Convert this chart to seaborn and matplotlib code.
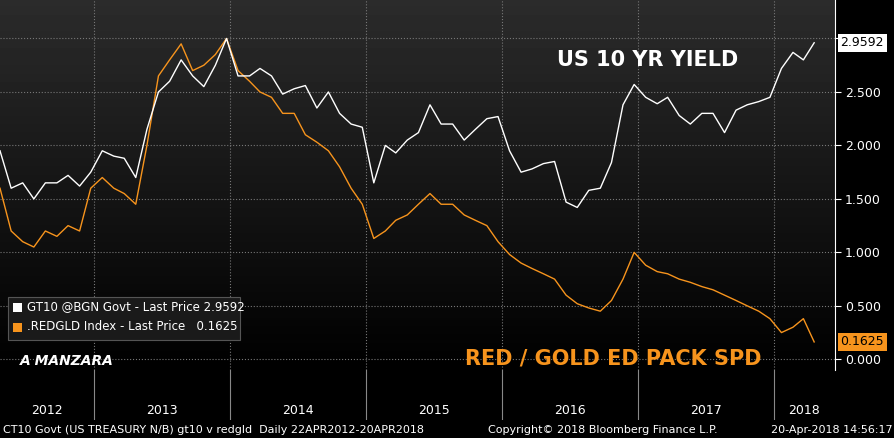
import matplotlib.pyplot as plt
import matplotlib.dates as mdates
import seaborn as sns
import numpy as np
import pandas as pd

# monthly readings, Apr 2012 .. Apr 2018
us10 = [1.95, 1.60, 1.65, 1.50, 1.65, 1.65, 1.72, 1.62, 1.75,
        1.95, 1.90, 1.88, 1.70, 2.15, 2.50, 2.60, 2.80, 2.65, 2.55, 2.75, 3.00,
        2.65, 2.65, 2.72, 2.65, 2.48, 2.53, 2.56, 2.35, 2.50, 2.30, 2.20, 2.17,
        1.65, 2.00, 1.93, 2.05, 2.12, 2.38, 2.20, 2.20, 2.05, 2.15, 2.25, 2.27,
        1.95, 1.75, 1.78, 1.83, 1.85, 1.47, 1.42, 1.58, 1.60, 1.84, 2.38, 2.57,
        2.45, 2.39, 2.45, 2.28, 2.20, 2.30, 2.30, 2.12, 2.33, 2.38, 2.41, 2.45,
        2.72, 2.87, 2.80, 2.96]
redgld = [1.60, 1.20, 1.10, 1.05, 1.20, 1.15, 1.25, 1.20, 1.60,
          1.70, 1.60, 1.55, 1.45, 2.00, 2.65, 2.80, 2.95, 2.70, 2.75, 2.85, 3.00,
          2.70, 2.60, 2.50, 2.45, 2.30, 2.30, 2.10, 2.03, 1.95, 1.80, 1.60, 1.45,
          1.13, 1.20, 1.30, 1.35, 1.45, 1.55, 1.45, 1.45, 1.35, 1.30, 1.25, 1.10,
          0.98, 0.90, 0.85, 0.80, 0.75, 0.60, 0.52, 0.48, 0.45, 0.55, 0.75, 1.00,
          0.88, 0.82, 0.80, 0.75, 0.72, 0.68, 0.65, 0.60, 0.55, 0.50, 0.45, 0.38,
          0.25, 0.30, 0.38, 0.1625]
dates = [pd.Timestamp('2012-04-22') + pd.DateOffset(months=i) for i in range(72)]
dates.append(pd.Timestamp('2018-04-20'))
dates[71] = pd.Timestamp('2018-03-22')
df = pd.DataFrame({'date': dates, 'us10': us10, 'redgld': redgld})

x0, x1 = pd.Timestamp('2012-04-22'), pd.Timestamp('2018-06-15')
fig = plt.figure(figsize=(8.95, 4.38), dpi=100)
fig.patch.set_facecolor('black')
ax = fig.add_axes([0, 68 / 438, 835 / 895, 370 / 438])
grad = np.linspace(0.17, 0.0, 100).reshape(-1, 1)
ax.imshow(grad, cmap='gray', vmin=0, vmax=1, aspect='auto', interpolation='bilinear',
          extent=[mdates.date2num(x0), mdates.date2num(x1), -0.1, 3.36], zorder=0)
sns.lineplot(data=df, x='date', y='redgld', color='#f7941d', lw=1, ax=ax, zorder=3)
sns.lineplot(data=df, x='date', y='us10', color='white', lw=1, ax=ax, zorder=4)
ax.set_xlim(x0, x1)
ax.set_ylim(-0.1, 3.36)
ax.yaxis.tick_right()
ax.set_yticks([0, 0.5, 1, 1.5, 2, 2.5, 3])
ax.set_yticklabels(['0.000', '0.500', '1.000', '1.500', '2.000', '2.500', ''], color='white', fontsize=9)
ax.tick_params(axis='y', length=4, color='white', pad=3)
ax.set_xticks([pd.Timestamp(f'{y}-01-01') for y in range(2013, 2019)])
ax.tick_params(axis='x', labelbottom=False, length=0)
ax.grid(True, color='#777777', ls=':', lw=0.8)
ax.set_xlabel('')
ax.set_ylabel('')
for s in ['top', 'left', 'bottom']:
    ax.spines[s].set_visible(False)
ax.spines['right'].set_color('white')

ax.annotate('2.9592', xy=(1, 2.9592), xycoords=('axes fraction', 'data'), xytext=(4, 0),
            textcoords='offset points', va='center', fontsize=9, color='black',
            bbox=dict(boxstyle='square,pad=0.2', fc='white', ec='none'), annotation_clip=False)
ax.annotate('0.1625', xy=(1, 0.1625), xycoords=('axes fraction', 'data'), xytext=(4, 0),
            textcoords='offset points', va='center', fontsize=9, color='black',
            bbox=dict(boxstyle='square,pad=0.2', fc='#f7941d', ec='none'), annotation_clip=False)

ax.text(557 / 835, 1 - 60 / 370, 'US 10 YR YIELD', transform=ax.transAxes, color='white',
        fontsize=15, fontweight='bold', va='center')
ax.text(465 / 835, 1 - 368 / 370, 'RED / GOLD ED PACK SPD', transform=ax.transAxes, color='#f7941d',
        fontsize=15, fontweight='bold', va='bottom')
ax.text(20 / 835, 1 - 368 / 370, 'A MANZARA', transform=ax.transAxes, color='white',
        fontsize=10, fontweight='bold', style='italic', va='bottom')

# legend box
ax.add_patch(plt.Rectangle((8 / 835, 1 - 340 / 370), 232 / 835, 43 / 370, transform=ax.transAxes,
                           fc='#1a1a1a', ec='#555555', lw=0.8, zorder=5))
for yy, col, txt in [(307, 'white', 'GT10 @BGN Govt - Last Price 2.9592'),
                     (327, '#f7941d', '.REDGLD Index - Last Price   0.1625')]:
    ax.add_patch(plt.Rectangle((13 / 835, 1 - (yy + 5) / 370), 9 / 835, 9 / 370, transform=ax.transAxes,
                               fc=col, ec='none', zorder=6))
    ax.text(27 / 835, 1 - yy / 370, txt, transform=ax.transAxes, color='white', fontsize=8.5,
            va='center', zorder=6)

# year band
bx = fig.add_axes([0, 18 / 438, 835 / 895, 50 / 438], sharex=ax)
bx.set_facecolor('black')
for y in range(2013, 2019):
    bx.axvline(pd.Timestamp(f'{y}-01-01'), color='#888888', lw=0.8)
for y in range(2012, 2019):
    a = max(pd.Timestamp(f'{y}-01-01'), x0)
    b = min(pd.Timestamp(f'{y + 1}-01-01'), x1)
    bx.text(a + (b - a) / 2, 0.2, str(y), color='white', fontsize=9, ha='center', va='center')
bx.set_ylim(0, 1)
bx.axis('off')

fig.text(0.003, 0.018, 'CT10 Govt (US TREASURY N/B) gt10 v redgld  Daily 22APR2012-20APR2018',
         color='white', fontsize=8, va='center')
fig.text(0.545, 0.018, 'Copyright\u00a9 2018 Bloomberg Finance L.P.', color='white', fontsize=8, va='center')
fig.text(0.997, 0.018, '20-Apr-2018 14:56:17', color='white', fontsize=8, va='center', ha='right')

fig.savefig('out.png', dpi=100, facecolor='black')
